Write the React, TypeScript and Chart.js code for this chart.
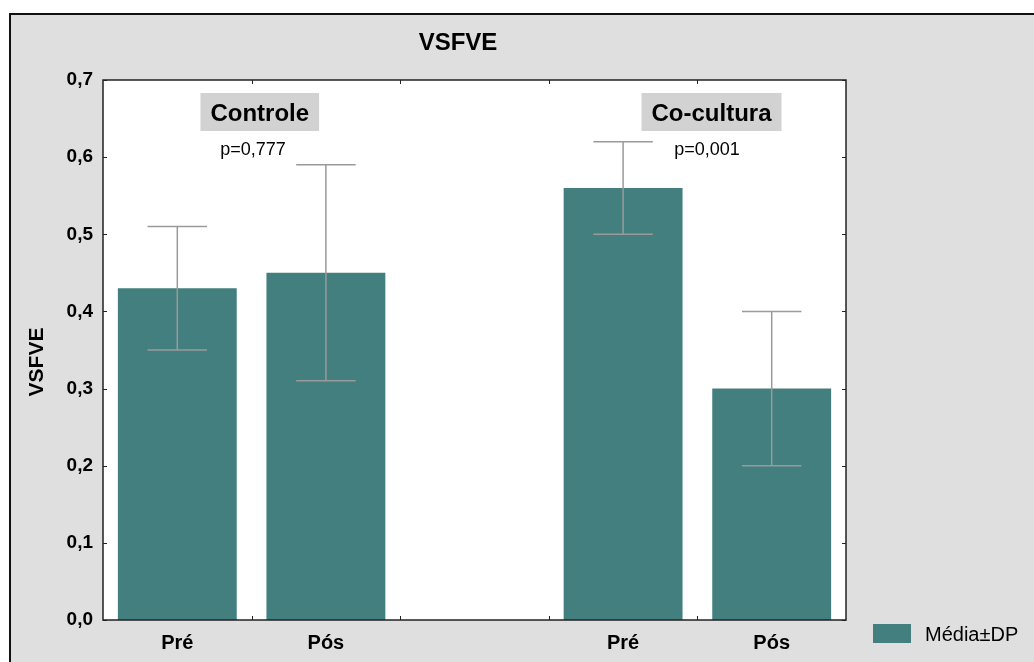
import React, { useEffect, useRef } from 'react';
import { Chart, registerables } from 'chart.js';

Chart.register(...registerables);

// ---- data ----
const categories = ['Pré', 'Pós', '', 'Pré', 'Pós'];
const means = [0.43, 0.45, null, 0.56, 0.3];
const sdLower = [0.35, 0.31, null, 0.5, 0.2];
const sdUpper = [0.51, 0.59, null, 0.62, 0.4];
const yMin = 0;
const yMax = 0.7;
const yStep = 0.1;
const groupLabels = ['Controle', 'Co-cultura'];
const pValues = ['p=0,777', 'p=0,001'];
const legendLabel = 'Média±DP';
const chartTitle = 'VSFVE';
const yTitle = 'VSFVE';

const FONT = '"Liberation Sans", Arial, Helvetica, sans-serif';
const BAR = '#427f7e';
const BG = '#dfdfdf';
const BOX = '#d2d2d2';
const ERR = '#9a9a9a';

const framePlugin = {
  id: 'statFrame',
  beforeDraw(chart: any) {
    const { ctx, width, height, chartArea } = chart;
    ctx.save();
    ctx.fillStyle = '#ffffff';
    ctx.fillRect(0, 0, width, height);
    ctx.fillStyle = BG;
    ctx.fillRect(10, 14, width - 10, height - 14);
    ctx.strokeStyle = '#111';
    ctx.lineWidth = 2;
    ctx.beginPath();
    ctx.moveTo(10, height + 2);
    ctx.lineTo(10, 14);
    ctx.lineTo(width + 2, 14);
    ctx.stroke();
    ctx.fillStyle = '#ffffff';
    ctx.fillRect(chartArea.left, chartArea.top, chartArea.right - chartArea.left, chartArea.bottom - chartArea.top);
    ctx.restore();
  },
  afterDatasetsDraw(chart: any) {
    const { ctx, chartArea } = chart;
    const xs = chart.scales.x;
    const ys = chart.scales.y;
    const meta = chart.getDatasetMeta(0);
    ctx.save();
    // error bars
    ctx.strokeStyle = ERR;
    ctx.lineWidth = 1.5;
    meta.data.forEach((bar: any, i: number) => {
      if (means[i] == null) return;
      const x = bar.x;
      const half = bar.width * 0.25;
      const yH = ys.getPixelForValue(sdUpper[i] as number);
      const yL = ys.getPixelForValue(sdLower[i] as number);
      ctx.beginPath();
      ctx.moveTo(x, yH);
      ctx.lineTo(x, yL);
      ctx.moveTo(x - half, yH);
      ctx.lineTo(x + half, yH);
      ctx.moveTo(x - half, yL);
      ctx.lineTo(x + half, yL);
      ctx.stroke();
    });
    // plot frame
    ctx.strokeStyle = '#222';
    ctx.lineWidth = 1.5;
    ctx.strokeRect(chartArea.left, chartArea.top, chartArea.right - chartArea.left, chartArea.bottom - chartArea.top);
    // inward ticks
    ctx.lineWidth = 1;
    ctx.beginPath();
    ys.ticks.forEach((t: any) => {
      const y = Math.round(ys.getPixelForValue(t.value)) + 0.5;
      ctx.moveTo(chartArea.left, y);
      ctx.lineTo(chartArea.left + 4, y);
      ctx.moveTo(chartArea.right, y);
      ctx.lineTo(chartArea.right - 4, y);
    });
    for (let i = 0; i < categories.length - 1; i++) {
      const x = Math.round((xs.getPixelForValue(i) + xs.getPixelForValue(i + 1)) / 2) + 0.5;
      ctx.moveTo(x, chartArea.bottom);
      ctx.lineTo(x, chartArea.bottom - 4);
      ctx.moveTo(x, chartArea.top);
      ctx.lineTo(x, chartArea.top + 4);
    }
    ctx.stroke();
    ctx.restore();
  },
  afterDraw(chart: any) {
    const { ctx, chartArea } = chart;
    const xs = chart.scales.x;
    ctx.save();
    // title
    ctx.fillStyle = '#000';
    ctx.textAlign = 'center';
    ctx.textBaseline = 'middle';
    ctx.font = `bold 24px ${FONT}`;
    ctx.fillText(chartTitle, 458, 43);
    // y axis title
    ctx.save();
    ctx.translate(36, 362);
    ctx.rotate(-Math.PI / 2);
    ctx.font = `bold 21px ${FONT}`;
    ctx.fillText(yTitle, 0, 1);
    ctx.restore();
    // group labels
    const step = xs.getPixelForValue(1) - xs.getPixelForValue(0);
    const groupX = [xs.getPixelForValue(0) + step * 0.555, xs.getPixelForValue(3) + step * 0.595];
    const pX = [xs.getPixelForValue(0) + step * 0.51, xs.getPixelForValue(3) + step * 0.565];
    groupLabels.forEach((lab, i) => {
      ctx.font = `bold 24px ${FONT}`;
      const w = ctx.measureText(lab).width + 20;
      ctx.fillStyle = BOX;
      ctx.fillRect(groupX[i] - w / 2, chartArea.top + 13, w, 38);
      ctx.fillStyle = '#000';
      ctx.textBaseline = 'alphabetic';
      ctx.fillText(lab, groupX[i], chartArea.top + 41);
      ctx.font = `18px ${FONT}`;
      ctx.fillText(pValues[i], pX[i], chartArea.top + 74.5);
    });
    // legend
    ctx.fillStyle = BAR;
    ctx.fillRect(873, 624, 38, 19);
    ctx.fillStyle = '#000';
    ctx.textAlign = 'left';
    ctx.textBaseline = 'alphabetic';
    ctx.font = `20px ${FONT}`;
    ctx.fillText(legendLabel, 925, 641);
    ctx.restore();
  },
};

export default function App() {
  const ref = useRef<HTMLCanvasElement>(null);
  useEffect(() => {
    document.body.style.margin = '0';
    const canvas = ref.current;
    if (!canvas) return;
    const chart = new Chart(canvas, {
      type: 'bar',
      data: {
        labels: categories,
        datasets: [
          {
            label: legendLabel,
            data: means as any,
            backgroundColor: BAR,
            borderColor: '#7aa9a8',
            borderWidth: 0,
            categoryPercentage: 1,
            barPercentage: 0.8,
          },
        ],
      },
      options: {
        responsive: false,
        animation: false,
        devicePixelRatio: 1,
        layout: { padding: { top: 80, left: 0, right: 188, bottom: 0 } },
        plugins: {
          legend: { display: false },
          title: { display: false },
          tooltip: { enabled: false },
        },
        scales: {
          x: {
            type: 'category',
            grid: { display: false, drawTicks: false },
            border: { display: false },
            ticks: {
              color: '#000',
              padding: 11,
              font: { family: FONT, size: 20, weight: 'bold' },
            },
            afterFit(scale: any) {
              scale.height = 42;
            },
          },
          y: {
            min: yMin,
            max: yMax,
            grid: { display: false, drawTicks: false },
            border: { display: false },
            ticks: {
              stepSize: yStep,
              color: '#000',
              padding: 10,
              font: { family: FONT, size: 19, weight: 'bold' },
              callback: (v: any) => Number(v).toFixed(1).replace('.', ','),
            },
            afterFit(scale: any) {
              scale.width = 103;
            },
          },
        },
      },
      plugins: [framePlugin],
    });
    return () => chart.destroy();
  }, []);
  return (
    <div style={{ position: 'absolute', left: 0, top: 0, width: 1034, height: 662 }}>
      <canvas ref={ref} width={1034} height={662} style={{ display: 'block', width: 1034, height: 662 }} />
    </div>
  );
}
